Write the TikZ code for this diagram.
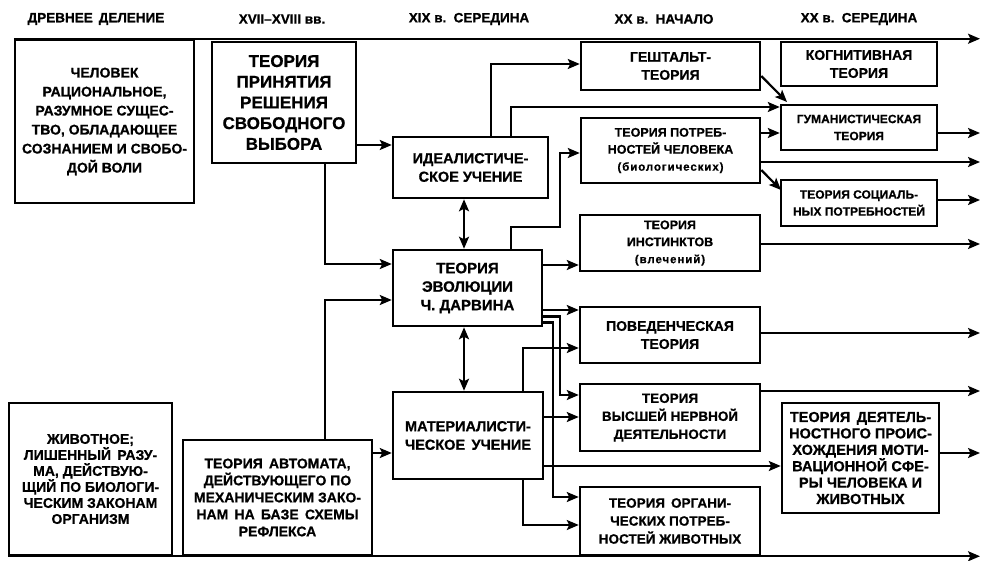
\documentclass[tikz,border=0pt]{standalone}
\usepackage{fontspec}
\setmainfont[BoldFeatures={FakeBold=0.8}]{Liberation Sans}
\usetikzlibrary{arrows.meta}
\newcommand{\lowsm}[1]{{\fontsize{11.5}{17}\selectfont\addfontfeature{LetterSpace=8}#1}}
\begin{document}
\begin{tikzpicture}[x=1pt,y=-1pt,
  box/.style={draw, line width=2.5pt, inner sep=0pt, align=center},
  wh/.style 2 args={minimum width=#1, minimum height=#2},
  fs/.style 2 args={font=\bfseries\fontsize{#1}{#2}\selectfont},
  ln/.style={line width=2.2pt, -{Stealth[length=12pt,width=10pt,inset=2.5pt]}},
  dbl/.style={line width=2.2pt, {Stealth[length=12pt,width=10pt,inset=2.5pt]}-{Stealth[length=12pt,width=10pt,inset=2.5pt]}},
  hdr/.style={font=\bfseries\fontsize{13.5}{16}\selectfont, inner sep=0pt}
]
\useasboundingbox (0,0) rectangle (981,561);
\fill[white] (0,0) rectangle (981,561);

% headers
\node[hdr] (h1) at (96,19) {ДРЕВНЕЕ\, ДЕЛЕНИЕ};
\node[hdr] (h2) at (282,19) {XVII–XVIII вв.};
\node[hdr] (h3) at (469,19) {XIX в.\, СЕРЕДИНА};
\node[hdr] (h4) at (664,19) {XX в.\, НАЧАЛО};
\node[hdr] (h5) at (859,19) {XX в.\, СЕРЕДИНА};

% boxes
\node[box, wh={179pt}{163pt}, fs={14}{19}] (chel) at (104.5,121.5)
  {ЧЕЛОВЕК\\РАЦИОНАЛЬНОЕ,\\РАЗУМНОЕ СУЩЕС-\\ТВО, ОБЛАДАЮЩЕЕ\\СОЗНАНИЕМ И СВОБО-\\ДОЙ ВОЛИ};
\node[box, wh={163pt}{152pt}, fs={14}{16}] (zhiv) at (90.5,479)
  {ЖИВОТНОЕ;\\ЛИШЕННЫЙ\, РАЗУ-\\МА, ДЕЙСТВУЮ-\\ЩИЙ ПО БИОЛОГИ-\\ЧЕСКИМ ЗАКОНАМ\\ОРГАНИЗМ};
\node[box, wh={144pt}{121pt}, fs={17}{20.7}] (prin) at (284,102.5)
  {ТЕОРИЯ\\ПРИНЯТИЯ\\РЕШЕНИЯ\\СВОБОДНОГО\\ВЫБОРА};
\node[box, wh={189pt}{115pt}, fs={14}{17}] (avt) at (277.5,497.5)
  {ТЕОРИЯ\, АВТОМАТА,\\ДЕЙСТВУЮЩЕГО ПО\\МЕХАНИЧЕСКИМ ЗАКО-\\НАМ\, НА\, БАЗЕ\, СХЕМЫ\\РЕФЛЕКСА};
\node[box, wh={155pt}{61pt}, fs={14.5}{18.5}] (ideal) at (470.5,167.5)
  {ИДЕАЛИСТИЧЕ-\\СКОЕ УЧЕНИЕ};
\node[box, wh={149pt}{76pt}, fs={15}{18.5}] (darw) at (467.5,288)
  {ТЕОРИЯ\\ЭВОЛЮЦИИ\\Ч. ДАРВИНА};
\node[box, wh={150pt}{87pt}, fs={14.5}{18.5}] (mat) at (468,435.5)
  {МАТЕРИАЛИСТИ-\\ЧЕСКОЕ\, УЧЕНИЕ};
\node[box, wh={179pt}{48pt}, fs={14}{18}] (gest) at (670.5,66)
  {ГЕШТАЛЬТ-\\ТЕОРИЯ};
\node[box, wh={179pt}{65pt}, fs={12.5}{17}] (potr) at (670.5,150.5)
  {ТЕОРИЯ ПОТРЕБ-\\НОСТЕЙ ЧЕЛОВЕКА\\\lowsm{(биологических)}};
\node[box, wh={180pt}{56pt}, fs={12.5}{17}] (inst) at (670,243)
  {ТЕОРИЯ\\ИНСТИНКТОВ\\\lowsm{(влечений)}};
\node[box, wh={180pt}{56pt}, fs={14}{18}] (pov) at (670,335)
  {ПОВЕДЕНЧЕСКАЯ\\ТЕОРИЯ};
\node[box, wh={180pt}{67pt}, fs={13.5}{18}] (vnd) at (670,417.5)
  {ТЕОРИЯ\\ВЫСШЕЙ НЕРВНОЙ\\ДЕЯТЕЛЬНОСТИ};
\node[box, wh={180pt}{68pt}, fs={13.5}{18}] (org) at (670,521)
  {ТЕОРИЯ\, ОРГАНИ-\\ЧЕСКИХ ПОТРЕБ-\\НОСТЕЙ ЖИВОТНЫХ};
\node[box, wh={156pt}{44pt}, fs={14}{18}] (kogn) at (859,64)
  {КОГНИТИВНАЯ\\ТЕОРИЯ};
\node[box, wh={156pt}{45pt}, fs={12}{17}] (gum) at (859,127.5)
  {ГУМАНИСТИЧЕСКАЯ\\ТЕОРИЯ};
\node[box, wh={156pt}{46pt}, fs={12}{17}] (soc) at (859,203)
  {ТЕОРИЯ СОЦИАЛЬ-\\НЫХ ПОТРЕБНОСТЕЙ};
\node[box, wh={157pt}{110pt}, fs={14.5}{16.4}] (deyat) at (860.5,458)
  {ТЕОРИЯ\, ДЕЯТЕЛЬ-\\НОСТНОГО ПРОИС-\\ХОЖДЕНИЯ МОТИ-\\ВАЦИОННОЙ СФЕ-\\РЫ ЧЕЛОВЕКА И\\ЖИВОТНЫХ};

% free ends
\coordinate (E) at (980,0);
\coordinate (g1) at (787,102);
\coordinate (s1) at (781,190);

% long lines
\draw[ln] (chel.north west) -- (E |- chel.north west);
\draw[ln] (zhiv.south west) -- (E |- zhiv.south west);

% connectors
\draw[ln] (prin.east |- 0,145) -- (ideal.west |- 0,145);
\draw[ln] (prin.south -| 325,0) |- (darw.west |- 0,264);
\draw[ln] (avt.north -| 325,0) |- (darw.west |- 0,300);
\draw[ln] (avt.east |- 0,453) -- (mat.west |- 0,453);
\draw[dbl] (ideal.south -| 464,0) -- (darw.north -| 464,0);
\draw[dbl] (darw.south -| 464,0) -- (mat.north -| 464,0);
\draw[ln] (ideal.north -| 491,0) |- (gest.west |- 0,64);
\draw[ln] (ideal.north -| 511,0) |- (gum.west |- 0,107);
\draw[ln] (gest.east |- 0,76) -- (g1);
\draw[ln] (potr.east |- 0,133) -- (gum.west |- 0,133);
\draw[ln] (potr.east |- 0,162) -- (E |- 0,162);
\draw[ln] (potr.east |- 0,170) -- (s1);
\draw[ln] (gum.east |- 0,133) -- (E |- 0,133);
\draw[ln] (soc.east |- 0,200) -- (E |- 0,200);
\draw[ln] (inst.east |- 0,244) -- (E |- 0,244);
\draw[ln] (pov.east |- 0,333) -- (E |- 0,333);
\draw[ln] (vnd.east |- 0,391) -- (E |- 0,391);
\draw[ln] (deyat.east |- 0,453) -- (E |- 0,453);
\draw[ln] (darw.east |- 0,265) -- (inst.west |- 0,265);
\draw[ln] (darw.north -| 511,0) |- (560,227) |- (potr.west |- 0,153);
\draw[ln] (darw.east |- 0,310) -- (pov.west |- 0,310);
\draw[ln] (darw.east |- 0,316.5) -- (560,316.5) |- (vnd.west |- 0,395);
\draw[ln] (darw.east |- 0,322.5) -- (553,322.5) |- (org.west |- 0,497);
\draw[ln] (mat.north -| 523,0) |- (pov.west |- 0,348);
\draw[ln] (mat.east |- 0,417) -- (vnd.west |- 0,417);
\draw[ln] (mat.east |- 0,466) -- (deyat.west |- 0,466);
\draw[ln] (mat.south -| 523,0) |- (org.west |- 0,525);
\end{tikzpicture}
\end{document}
